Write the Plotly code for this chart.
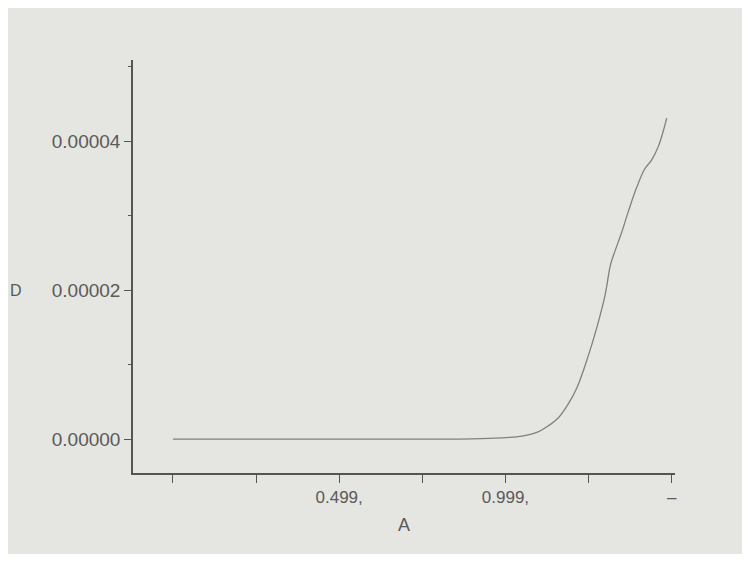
import plotly.graph_objects as go

# curve
x_vals = [0.0, 0.38, 0.68, 0.86, 0.95, 1.0, 1.05, 1.10, 1.13, 1.16, 1.19, 1.215, 1.245,
          1.275, 1.30, 1.316, 1.33, 1.35, 1.37, 1.394, 1.418, 1.44, 1.46, 1.475, 1.485]
y_vals = [0.0, 0.0, 0.0, 0.0, 0.0000001, 0.0000002, 0.0000004, 0.000001, 0.0000018,
          0.0000029, 0.0000048, 0.0000069, 0.0000106, 0.000015, 0.0000194, 0.0000234,
          0.0000253, 0.0000278, 0.0000306, 0.0000337, 0.0000362, 0.0000375, 0.0000393,
          0.0000414, 0.0000431]

x_tickvals = [0.0, 0.25, 0.5, 0.75, 1.0, 1.25, 1.5]
x_ticktext = ["", "", "0.499,", "", "0.999,", "", "–"]
y_tickvals = [0.0, 0.00002, 0.00004]
y_ticktext = ["0.00000", "0.00002", "0.00004"]

bg = "#e5e5e1"
ink = "#5a5a5a"

fig = go.Figure()
fig.add_trace(go.Scatter(x=x_vals, y=y_vals, mode="lines",
                         line=dict(color="#808080", width=1.3, shape="spline")))

fig.update_layout(
    width=734, height=546,
    paper_bgcolor=bg, plot_bgcolor=bg,
    margin=dict(l=125, r=67, t=52, b=81),
    showlegend=False,
    font=dict(family="Liberation Sans, Arial, sans-serif", size=17, color=ink),
)
fig.update_xaxes(
    range=[-0.12, 1.51], tickvals=x_tickvals, ticktext=x_ticktext,
    showgrid=False, zeroline=False, showline=True, linecolor="#555", linewidth=1.5,
    ticks="outside", ticklen=8, tickcolor="#555",
    title=dict(text="A", font=dict(size=18), standoff=12),
)
fig.update_yaxes(
    range=[-0.00000456, 0.0000509], tickvals=y_tickvals, ticktext=y_ticktext,
    showgrid=False, zeroline=False, showline=True, linecolor="#555", linewidth=1.5,
    ticks="outside", ticklen=7, tickcolor="#555", tickfont=dict(size=19),
    minor=dict(ticks="outside", ticklen=3, dtick=0.00001, tick0=0, tickcolor="#555"),
)
fig.add_annotation(text="D", xref="paper", yref="paper", x=-0.23, y=0.443,
                   xanchor="left", yanchor="middle", showarrow=False,
                   font=dict(size=16, color=ink))

fig.write_html("out.html")
